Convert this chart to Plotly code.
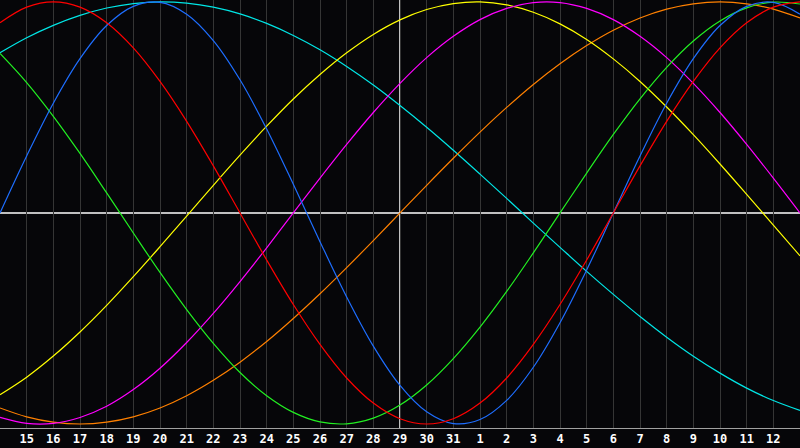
import plotly.graph_objects as go

days = list(range(0, 31))
tick_pos = list(range(1, 30))
tick_labels = ["15", "16", "17", "18", "19", "20", "21", "22", "23", "24", "25", "26", "27", "28",
               "29", "30", "31", "1", "2", "3", "4", "5", "6", "7", "8", "9", "10", "11", "12"]

blue = [0, 27.0, 52.0, 73.1, 88.8, 97.9, 99.8, 94.2, 81.7, 63.1, 39.8, 13.6, -13.6, -39.8, -63.1,
        -81.7, -94.2, -99.8, -97.9, -88.8, -73.1, -52.0, -27.0, 0, 27.0, 52.0, 73.1, 88.8, 97.9,
        99.8, 94.2]
red = [90.1, 97.5, 100, 97.5, 90.1, 78.2, 62.3, 43.4, 22.3, 0, -22.3, -43.4, -62.3, -78.2, -90.1,
       -97.5, -100, -97.5, -90.1, -78.2, -62.3, -43.4, -22.3, 0, 22.3, 43.4, 62.3, 78.2, 90.1,
       97.5, 100]
green = [75.6, 61.8, 45.8, 28.2, 9.5, -9.5, -28.2, -45.8, -61.8, -75.6, -86.6, -94.5, -99.0, -99.9,
         -97.2, -91.0, -81.5, -69.0, -54.1, -37.2, -18.9, 0, 18.9, 37.2, 54.1, 69.0, 81.5, 91.0,
         97.2, 99.9, 99.0]
magenta = [-96.9, -99.7, -99.7, -96.9, -91.6, -83.7, -73.6, -61.4, -47.6, -32.5, -16.5, 0, 16.5,
           32.5, 47.6, 61.4, 73.6, 83.7, 91.6, 96.9, 99.7, 99.7, 96.9, 91.6, 83.7, 73.6, 61.4,
           47.6, 32.5, 16.5, 0]
yellow = [-86.1, -77.8, -67.8, -56.4, -43.8, -30.2, -16.0, -1.5, 13.1, 27.4, 41.1, 54.0, 65.6,
          75.9, 84.6, 91.5, 96.4, 99.2, 100.0, 98.6, 95.1, 89.6, 82.2, 73.0, 62.3, 50.2, 37.1,
          23.2, 8.8, -5.8, -20.3]
orange = [-92.4, -96.6, -99.1, -100, -99.1, -96.6, -92.4, -86.6, -79.3, -70.7, -60.9, -50.0, -38.3,
          -25.9, -13.1, 0, 13.1, 25.9, 38.3, 50.0, 60.9, 70.7, 79.3, 86.6, 92.4, 96.6, 99.1, 100,
          99.1, 96.6, 92.4]
cyan = [75.9, 83.0, 88.9, 93.6, 97.1, 99.2, 100.0, 99.4, 97.5, 94.3, 89.8, 84.1, 77.3, 69.4, 60.6,
        50.9, 40.6, 29.7, 18.4, 6.9, -4.8, -16.3, -27.7, -38.6, -49.1, -58.9, -67.9, -75.9, -83.0,
        -88.9, -93.6]

series = [
    ("cyan", cyan, "#00e6e6"),
    ("orange", orange, "#ff8000"),
    ("yellow", yellow, "#ffff00"),
    ("magenta", magenta, "#ff00ff"),
    ("green", green, "#22f022"),
    ("blue", blue, "#1e6eff"),
    ("red", red, "#ff0000"),
]

fig = go.Figure()
for name, vals, col in series:
    fig.add_trace(go.Scatter(x=days, y=vals, mode="lines", name=name,
                             line=dict(color=col, width=1.2, shape="spline", smoothing=1.0),
                             hoverinfo="skip"))

# center cross lines
fig.add_shape(type="line", xref="x", yref="paper", x0=15, x1=15, y0=0, y1=1,
              line=dict(color="#ffffff", width=1.5), layer="below")
fig.add_shape(type="line", xref="paper", yref="y", x0=0, x1=1, y0=0, y1=0,
              line=dict(color="#ffffff", width=1.5), layer="below")

fig.update_layout(
    width=800, height=448,
    margin=dict(l=0, r=0, t=0, b=20),
    paper_bgcolor="#060609",
    plot_bgcolor="#060609",
    showlegend=False,
    xaxis=dict(range=[0, 30], tickmode="array", tickvals=tick_pos, ticktext=tick_labels,
               showgrid=True, gridcolor="#353535", gridwidth=1,
               showline=True, linecolor="#a0a0a0", linewidth=1, mirror=True,
               ticks="", zeroline=False,
               tickfont=dict(family="DejaVu Sans Mono", size=12, color="#ffffff", weight="bold")),
    yaxis=dict(range=[-101.9, 100.9], showgrid=False, zeroline=False, showticklabels=False,
               showline=True, linecolor="#a0a0a0", linewidth=1, mirror=True, ticks=""),
)

fig.write_html("out.html", config={"displayModeBar": False},
               post_script="document.body.style.margin='0';document.body.style.background='#060609';")
